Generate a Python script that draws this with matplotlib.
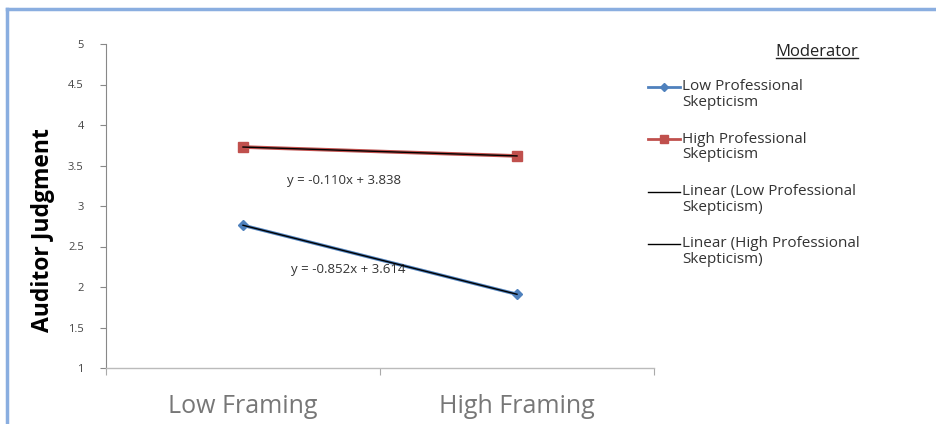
import numpy as np
import matplotlib
matplotlib.use("Agg")
import matplotlib.pyplot as plt
from matplotlib.lines import Line2D

categories = ["Low Framing", "High Framing"]
low_ps = [2.762, 1.910]
high_ps = [3.728, 3.618]
series_names = ["Low Professional\nSkepticism", "High Professional\nSkepticism"]
trend_names = ["Linear (Low Professional\nSkepticism)", "Linear (High Professional\nSkepticism)"]
y_ticks = [1, 1.5, 2, 2.5, 3, 3.5, 4, 4.5, 5]
y_tick_labels = ["1", "1.5", "2", "2.5", "3", "3.5", "4", "4.5", "5"]

plt.rcParams['font.family'] = ['Open Sans', 'DejaVu Sans']

W, H = 936, 424
fig = plt.figure(figsize=(W/100, H/100), dpi=100)
fig.patch.set_facecolor("white")
ax = fig.add_axes([106/W, 1-368/H, 548/W, 324/H])

x = np.arange(1, len(categories) + 1)
blue = "#4F81BD"
red = "#C0504D"
l1, = ax.plot(x, low_ps, color=blue, lw=2.4, marker="D", ms=5, zorder=3)
l2, = ax.plot(x, high_ps, color=red, lw=2.6, marker="s", ms=7.5, zorder=3)

# linear trendlines
c_low = np.polyfit(x, low_ps, 1)
c_high = np.polyfit(x, high_ps, 1)
t1, = ax.plot(x, np.polyval(c_low, x), color="black", lw=1.0, zorder=4)
t2, = ax.plot(x, np.polyval(c_high, x), color="black", lw=1.0, zorder=4)

def eq(c):
    sign = "-" if c[0] < 0 else ""
    return f"y = {sign}{abs(c[0]):.3f}x + {c[1]:.3f}"

ax.text(1.37, 3.32, eq(c_high), ha="center", va="center", fontsize=9.5, color="#333333")
ax.text(1.385, 2.21, eq(c_low), ha="center", va="center", fontsize=9.5, color="#333333")

ax.set_xlim(0.5, len(categories) + 0.5)
ax.set_ylim(1, 5)
ax.set_yticks(y_ticks)
ax.set_yticklabels(y_tick_labels, fontsize=8, color="#444444")
ax.tick_params(axis="y", length=4, width=0.8, color="#888888", pad=12)
ax.set_xticks(x)
ax.set_xticklabels(categories, fontsize=18, color="#777777")
ax.tick_params(axis="x", which="major", length=0, pad=19)
ax.set_xticks(np.arange(0.5, len(categories) + 1), minor=True)
ax.tick_params(axis="x", which="minor", length=5, width=0.8, color="#aaaaaa")
for s in ["top", "right"]:
    ax.spines[s].set_visible(False)
ax.spines["left"].set_color("#888888")
ax.spines["bottom"].set_color("#bbbbbb")
ax.spines["left"].set_linewidth(0.8)
ax.spines["bottom"].set_linewidth(1.0)

ax.set_ylabel("Auditor Judgment", fontsize=16.5, fontweight="bold", color="black")
ax.yaxis.set_label_coords((55 - 106) / 548, (368 - 230) / 324)

# legend (entries drawn with the series' own styles, handle aligned to first text line)
handles = [l1, l2, t1, t2]
labels = series_names + trend_names
for i, (h, lab) in enumerate(zip(handles, labels)):
    yc = 1 - (87 + 52.3 * i) / H
    has_marker = h.get_marker() not in (None, "None", "")
    fig.add_artist(Line2D([648/W, 664/W, 680/W], [yc, yc, yc], transform=fig.transFigure,
                          color=h.get_color(), lw=min(h.get_linewidth(), 2.0),
                          marker=h.get_marker(), ms=h.get_markersize() * 0.8,
                          markevery=[1] if has_marker else None))
    for j, part in enumerate(lab.split("\n")):
        fig.text(682/W, yc - j * 15.5 / H, part, ha="left", va="center",
                 fontsize=11, color="#333333")

title = fig.text(817/W, 1-52/H, "Moderator", ha="center", va="center", fontsize=12, color="#222222")
fig.canvas.draw()
bb = title.get_window_extent().transformed(fig.transFigure.inverted())
fig.add_artist(Line2D([bb.x0, bb.x1], [bb.y0 + 0.004, bb.y0 + 0.004], color="#222222", lw=1.0, transform=fig.transFigure))

# frame border (left and top, light blue)
fig.add_artist(Line2D([7/W, 7/W], [0, 1-9/H], color="#8AAEE0", lw=2.5, transform=fig.transFigure))
fig.add_artist(Line2D([7/W, 1], [1-9/H, 1-9/H], color="#8AAEE0", lw=2.5, transform=fig.transFigure))

fig.savefig("out.png", dpi=100, facecolor="white")
